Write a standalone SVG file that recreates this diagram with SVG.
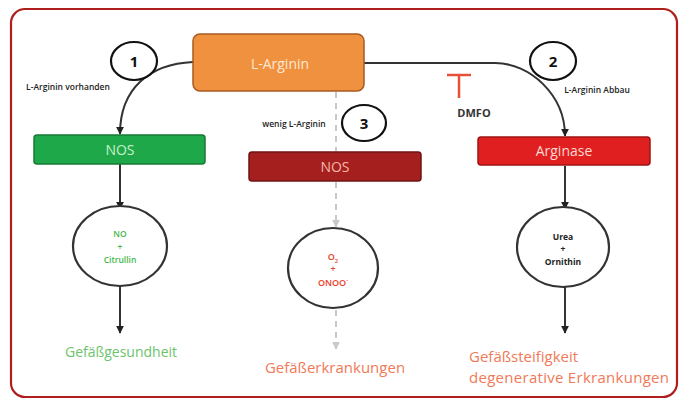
<svg xmlns="http://www.w3.org/2000/svg" width="680" height="399" viewBox="0 0 680 399">
<style>
.t{font-family:"Open Sans","Liberation Sans",sans-serif;text-anchor:middle}
.box{stroke-width:1.5}
.ell{fill:#fff;stroke:#333;stroke-width:2.2}
.num{fill:#fff;stroke:#111;stroke-width:2.2}
.conn{fill:none;stroke:#333;stroke-width:2}
.dash{fill:none;stroke:#c8c8c8;stroke-width:2;stroke-dasharray:6 5}
.small{font-size:8.5px;fill:#222;font-weight:600}
</style>
<defs>
<marker id="ah" viewBox="0 0 10 10" refX="9" refY="5" markerWidth="4" markerHeight="4" orient="auto"><path d="M0,0 L10,5 L0,10 z" fill="#222"/></marker>
<marker id="ahg" viewBox="0 0 10 10" refX="9" refY="5" markerWidth="4" markerHeight="4" orient="auto"><path d="M0,0 L10,5 L0,10 z" fill="#c8c8c8"/></marker>
</defs>
<rect x="0" y="0" width="680" height="399" fill="#fff"/>
<rect x="11" y="9" width="666" height="388" rx="14" fill="#fff" stroke="#b01e1e" stroke-width="2.2"/>

<g id="connectors">
<path class="conn" d="M193,62 C150,64 120,88 120,134" marker-end="url(#ah)"/>
<path class="conn" d="M364,63 L495,63 C530,63 565,95 565,136" marker-end="url(#ah)"/>
<path class="conn" d="M120,164 L120,209" marker-end="url(#ah)"/>
<path class="conn" d="M120,285 L120,333" marker-end="url(#ah)"/>
<path class="conn" d="M565,166 L565,209" marker-end="url(#ah)"/>
<path class="conn" d="M565,286 L565,333" marker-end="url(#ah)"/>
<path class="dash" d="M336,92 L336,151"/>
<path class="dash" d="M336,182 L336,227" marker-end="url(#ahg)"/>
<path class="dash" d="M336,310 L336,349" marker-end="url(#ahg)"/>
</g>

<g id="l-arginin">
<rect class="box" x="193" y="34" width="171" height="57" rx="7" fill="#f0913f" stroke="#a85a22"/>
<text class="t" x="280" y="69" font-size="14" fill="#fde8d4">L-Arginin</text>
</g>

<g id="label1">
<ellipse class="num" cx="134" cy="61" rx="23" ry="19"/>
<text class="t" x="134" y="67" font-size="15" font-weight="bold" fill="#111">1</text>
<text class="t small" x="68" y="90">L-Arginin vorhanden</text>
</g>

<g id="label2">
<ellipse class="num" cx="553" cy="61" rx="23" ry="19"/>
<text class="t" x="553" y="67" font-size="15" font-weight="bold" fill="#111">2</text>
<text class="t small" x="597" y="93">L-Arginin Abbau</text>
</g>

<g id="label3">
<ellipse class="num" cx="364" cy="123" rx="22" ry="18"/>
<text class="t" x="364" y="129" font-size="15" font-weight="bold" fill="#111">3</text>
<text class="t small" x="294" y="127">wenig L-Arginin</text>
</g>

<g id="dmfo">
<path d="M447,75 L471,75 M459,75 L459,98" stroke="#e8503a" stroke-width="2.5" fill="none"/>
<text class="t" x="474" y="117" font-size="11" font-weight="bold" fill="#333">DMFO</text>
</g>

<g id="nos-green">
<rect class="box" x="34" y="135" width="171" height="29" rx="3" fill="#1fa84a" stroke="#167a36"/>
<text class="t" x="120" y="155" font-size="14" fill="#c8f0c8">NOS</text>
</g>

<g id="nos-red">
<rect class="box" x="249" y="152" width="172" height="29" rx="3" fill="#a51f1f" stroke="#6e1414"/>
<text class="t" x="335" y="172" font-size="14" fill="#f6b8a8">NOS</text>
</g>

<g id="arginase">
<rect class="box" x="478" y="137" width="172" height="28" rx="3" fill="#e02020" stroke="#9e1414"/>
<text class="t" x="564" y="156" font-size="14" fill="#fcd8d0">Arginase</text>
</g>

<g id="no-citrullin">
<ellipse class="ell" cx="120" cy="246" rx="47" ry="40"/>
<text class="t" x="120" y="237" font-size="8.5" font-weight="600" fill="#3fb84a">NO</text>
<text class="t" x="120" y="250" font-size="8.5" font-weight="600" fill="#3fb84a">+</text>
<text class="t" x="120" y="263" font-size="8.5" font-weight="600" fill="#3fb84a">Citrullin</text>
</g>

<g id="o2-onoo">
<ellipse class="ell" cx="333" cy="268" rx="45" ry="40"/>
<text class="t" x="333" y="260" font-size="9" font-weight="600" fill="#e8412b">O<tspan font-size="6" dy="3">2</tspan></text>
<text class="t" x="333" y="272" font-size="9" font-weight="600" fill="#e8412b">+</text>
<text class="t" x="333" y="286" font-size="9" font-weight="600" fill="#e8412b">ONOO<tspan font-size="6" dy="-4">-</tspan></text>
</g>

<g id="urea-ornithin">
<ellipse class="ell" cx="563" cy="247" rx="46" ry="40"/>
<text class="t" x="563" y="240" font-size="8.5" font-weight="bold" fill="#222">Urea</text>
<text class="t" x="563" y="252" font-size="8.5" font-weight="bold" fill="#222">+</text>
<text class="t" x="563" y="265" font-size="8.5" font-weight="bold" fill="#222">Ornithin</text>
</g>

<g id="gefaessgesundheit">
<text class="t" x="121" y="357" font-size="14" fill="#6cc46c">Gefäßgesundheit</text>
</g>
<g id="gefaesserkrankungen">
<text class="t" x="335" y="373" font-size="15" fill="#f07a58">Gefäßerkrankungen</text>
</g>
<g id="gefaesssteifigkeit">
<text x="469" y="362" font-family="Open Sans, Liberation Sans, sans-serif" font-size="15" fill="#f07a58">Gefäßsteifigkeit</text>
<text x="469" y="383" font-family="Open Sans, Liberation Sans, sans-serif" font-size="15" fill="#f07a58" textLength="200">degenerative Erkrankungen</text>
</g>
</svg>
